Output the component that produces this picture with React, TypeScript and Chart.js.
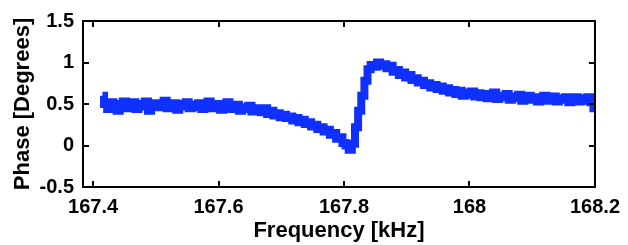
import React, { useEffect, useRef } from "react";
import { Chart, registerables } from "chart.js";

Chart.register(...registerables);

// Frequency sweep grid (kHz)
const FREQ_START = 167.415;
const FREQ_STEP = 0.005;

// Measured phase (degrees), one value per sweep step
const PHASE: number[] = [
  0.60, 0.50, 0.44, 0.52, 0.47, 0.42, 0.50, 0.53, 0.45, 0.48,
  0.52, 0.44, 0.50, 0.47, 0.53, 0.42, 0.49, 0.51, 0.46, 0.50,
  0.54, 0.45, 0.48, 0.51, 0.43, 0.50, 0.47, 0.52, 0.45, 0.49,
  0.46, 0.51, 0.44, 0.48, 0.53, 0.45, 0.47, 0.50, 0.43, 0.48,
  0.52, 0.44, 0.47, 0.49, 0.42, 0.46, 0.44, 0.48, 0.41, 0.45,
  0.43, 0.40, 0.45, 0.38, 0.42, 0.36, 0.39, 0.34, 0.37, 0.33,
  0.35, 0.30, 0.33, 0.28, 0.31, 0.26, 0.28, 0.23, 0.25, 0.20,
  0.22, 0.17, 0.19, 0.13, 0.15, 0.08, 0.10, 0.03, 0.00, -0.05,
  0.02, 0.22, 0.42, 0.60, 0.78, 0.92, 0.97, 0.95, 1.00, 0.96,
  0.98, 0.93, 0.96, 0.89, 0.91, 0.85, 0.88, 0.82, 0.85, 0.79,
  0.81, 0.76, 0.78, 0.73, 0.75, 0.70, 0.73, 0.68, 0.71, 0.66,
  0.69, 0.64, 0.67, 0.62, 0.66, 0.60, 0.64, 0.61, 0.65, 0.59,
  0.63, 0.58, 0.62, 0.57, 0.61, 0.64, 0.56, 0.60, 0.58, 0.62,
  0.55, 0.59, 0.57, 0.61, 0.54, 0.58, 0.60, 0.55, 0.58, 0.53,
  0.57, 0.60, 0.54, 0.56, 0.59, 0.53, 0.57, 0.55, 0.58, 0.52,
  0.56, 0.58, 0.53, 0.57, 0.54, 0.58, 0.52, 0.45,
];

const X_TICKS = [167.4, 167.6, 167.8, 168, 168.2];
const Y_TICKS = [-0.5, 0, 0.5, 1, 1.5];
const X_MIN = 167.384;
const X_MAX = 168.2;
const Y_MIN = -0.5;
const Y_MAX = 1.5;

const X_TITLE = "Frequency [kHz]";
const Y_TITLE = "Phase [Degrees]";

const FONT = "'Liberation Sans', Arial, Helvetica, sans-serif";

const framePlugin = {
  id: "matlabFrame",
  afterDatasetsDraw(chart: any) {
    const { ctx, chartArea } = chart;
    const { left, right, top, bottom } = chartArea;
    const xs = chart.scales.x;
    const ys = chart.scales.y;
    const len = 6;
    ctx.save();
    ctx.strokeStyle = "#000";
    ctx.lineWidth = 2;
    ctx.beginPath();
    X_TICKS.forEach((v) => {
      const px = Math.round(xs.getPixelForValue(v));
      ctx.moveTo(px, bottom);
      ctx.lineTo(px, bottom - len);
      ctx.moveTo(px, top);
      ctx.lineTo(px, top + len);
    });
    Y_TICKS.forEach((v) => {
      const py = Math.round(ys.getPixelForValue(v));
      ctx.moveTo(left, py);
      ctx.lineTo(left + len, py);
      ctx.moveTo(right, py);
      ctx.lineTo(right - len, py);
    });
    ctx.stroke();
    ctx.strokeRect(left, top, right - left, bottom - top);
    ctx.restore();
  },
};

export default function App() {
  const ref = useRef<HTMLCanvasElement | null>(null);

  useEffect(() => {
    if (!ref.current) return;
    const points = PHASE.map((y, i) => ({ x: FREQ_START + i * FREQ_STEP, y }));
    const chart = new Chart(ref.current, {
      type: "line",
      data: {
        datasets: [
          {
            data: points,
            borderColor: "rgb(16,48,255)",
            backgroundColor: "rgb(16,48,255)",
            borderWidth: 8,
            borderCapStyle: "butt",
            borderJoinStyle: "miter",
            stepped: "middle",
            pointRadius: 0,
            fill: false,
          },
        ],
      },
      options: {
        animation: false,
        responsive: false,
        devicePixelRatio: 1,
        layout: { padding: { top: 16, right: 30, left: 0, bottom: 0 } },
        plugins: { legend: { display: false }, tooltip: { enabled: false } },
        scales: {
          x: {
            type: "linear",
            min: X_MIN,
            max: X_MAX,
            grid: { display: false, drawTicks: false },
            border: { display: false },
            afterBuildTicks: (s: any) => {
              s.ticks = X_TICKS.map((v) => ({ value: v }));
            },
            afterFit: (s: any) => {
              s.height = 58;
            },
            ticks: {
              padding: 8,
              color: "#000",
              maxRotation: 0,
              autoSkip: false,
              font: { family: FONT, size: 20, weight: "bold" },
              callback: (v: any) => String(v),
            },
            title: {
              display: true,
              text: X_TITLE,
              color: "#000",
              font: { family: FONT, size: 22, weight: "bold" },
              padding: { top: 0, bottom: 1 },
            },
          },
          y: {
            type: "linear",
            min: Y_MIN,
            max: Y_MAX,
            grid: { display: false, drawTicks: false },
            border: { display: false },
            afterBuildTicks: (s: any) => {
              s.ticks = Y_TICKS.map((v) => ({ value: v }));
            },
            afterFit: (s: any) => {
              s.width = 83;
            },
            ticks: {
              padding: 9,
              color: "#000",
              autoSkip: false,
              font: { family: FONT, size: 20, weight: "bold" },
              callback: (v: any) => String(v),
            },
            title: {
              display: true,
              text: Y_TITLE,
              color: "#000",
              font: { family: FONT, size: 22, weight: "bold" },
              padding: { top: 10, bottom: 0 },
            },
          },
        },
      },
      plugins: [framePlugin],
    });
    return () => chart.destroy();
  }, []);

  return (
    <div style={{ position: "fixed", left: 0, top: 0, width: 628, height: 245, background: "#fff" }}>
      <canvas ref={ref} width={628} height={245} style={{ width: 628, height: 245 }} />
    </div>
  );
}
